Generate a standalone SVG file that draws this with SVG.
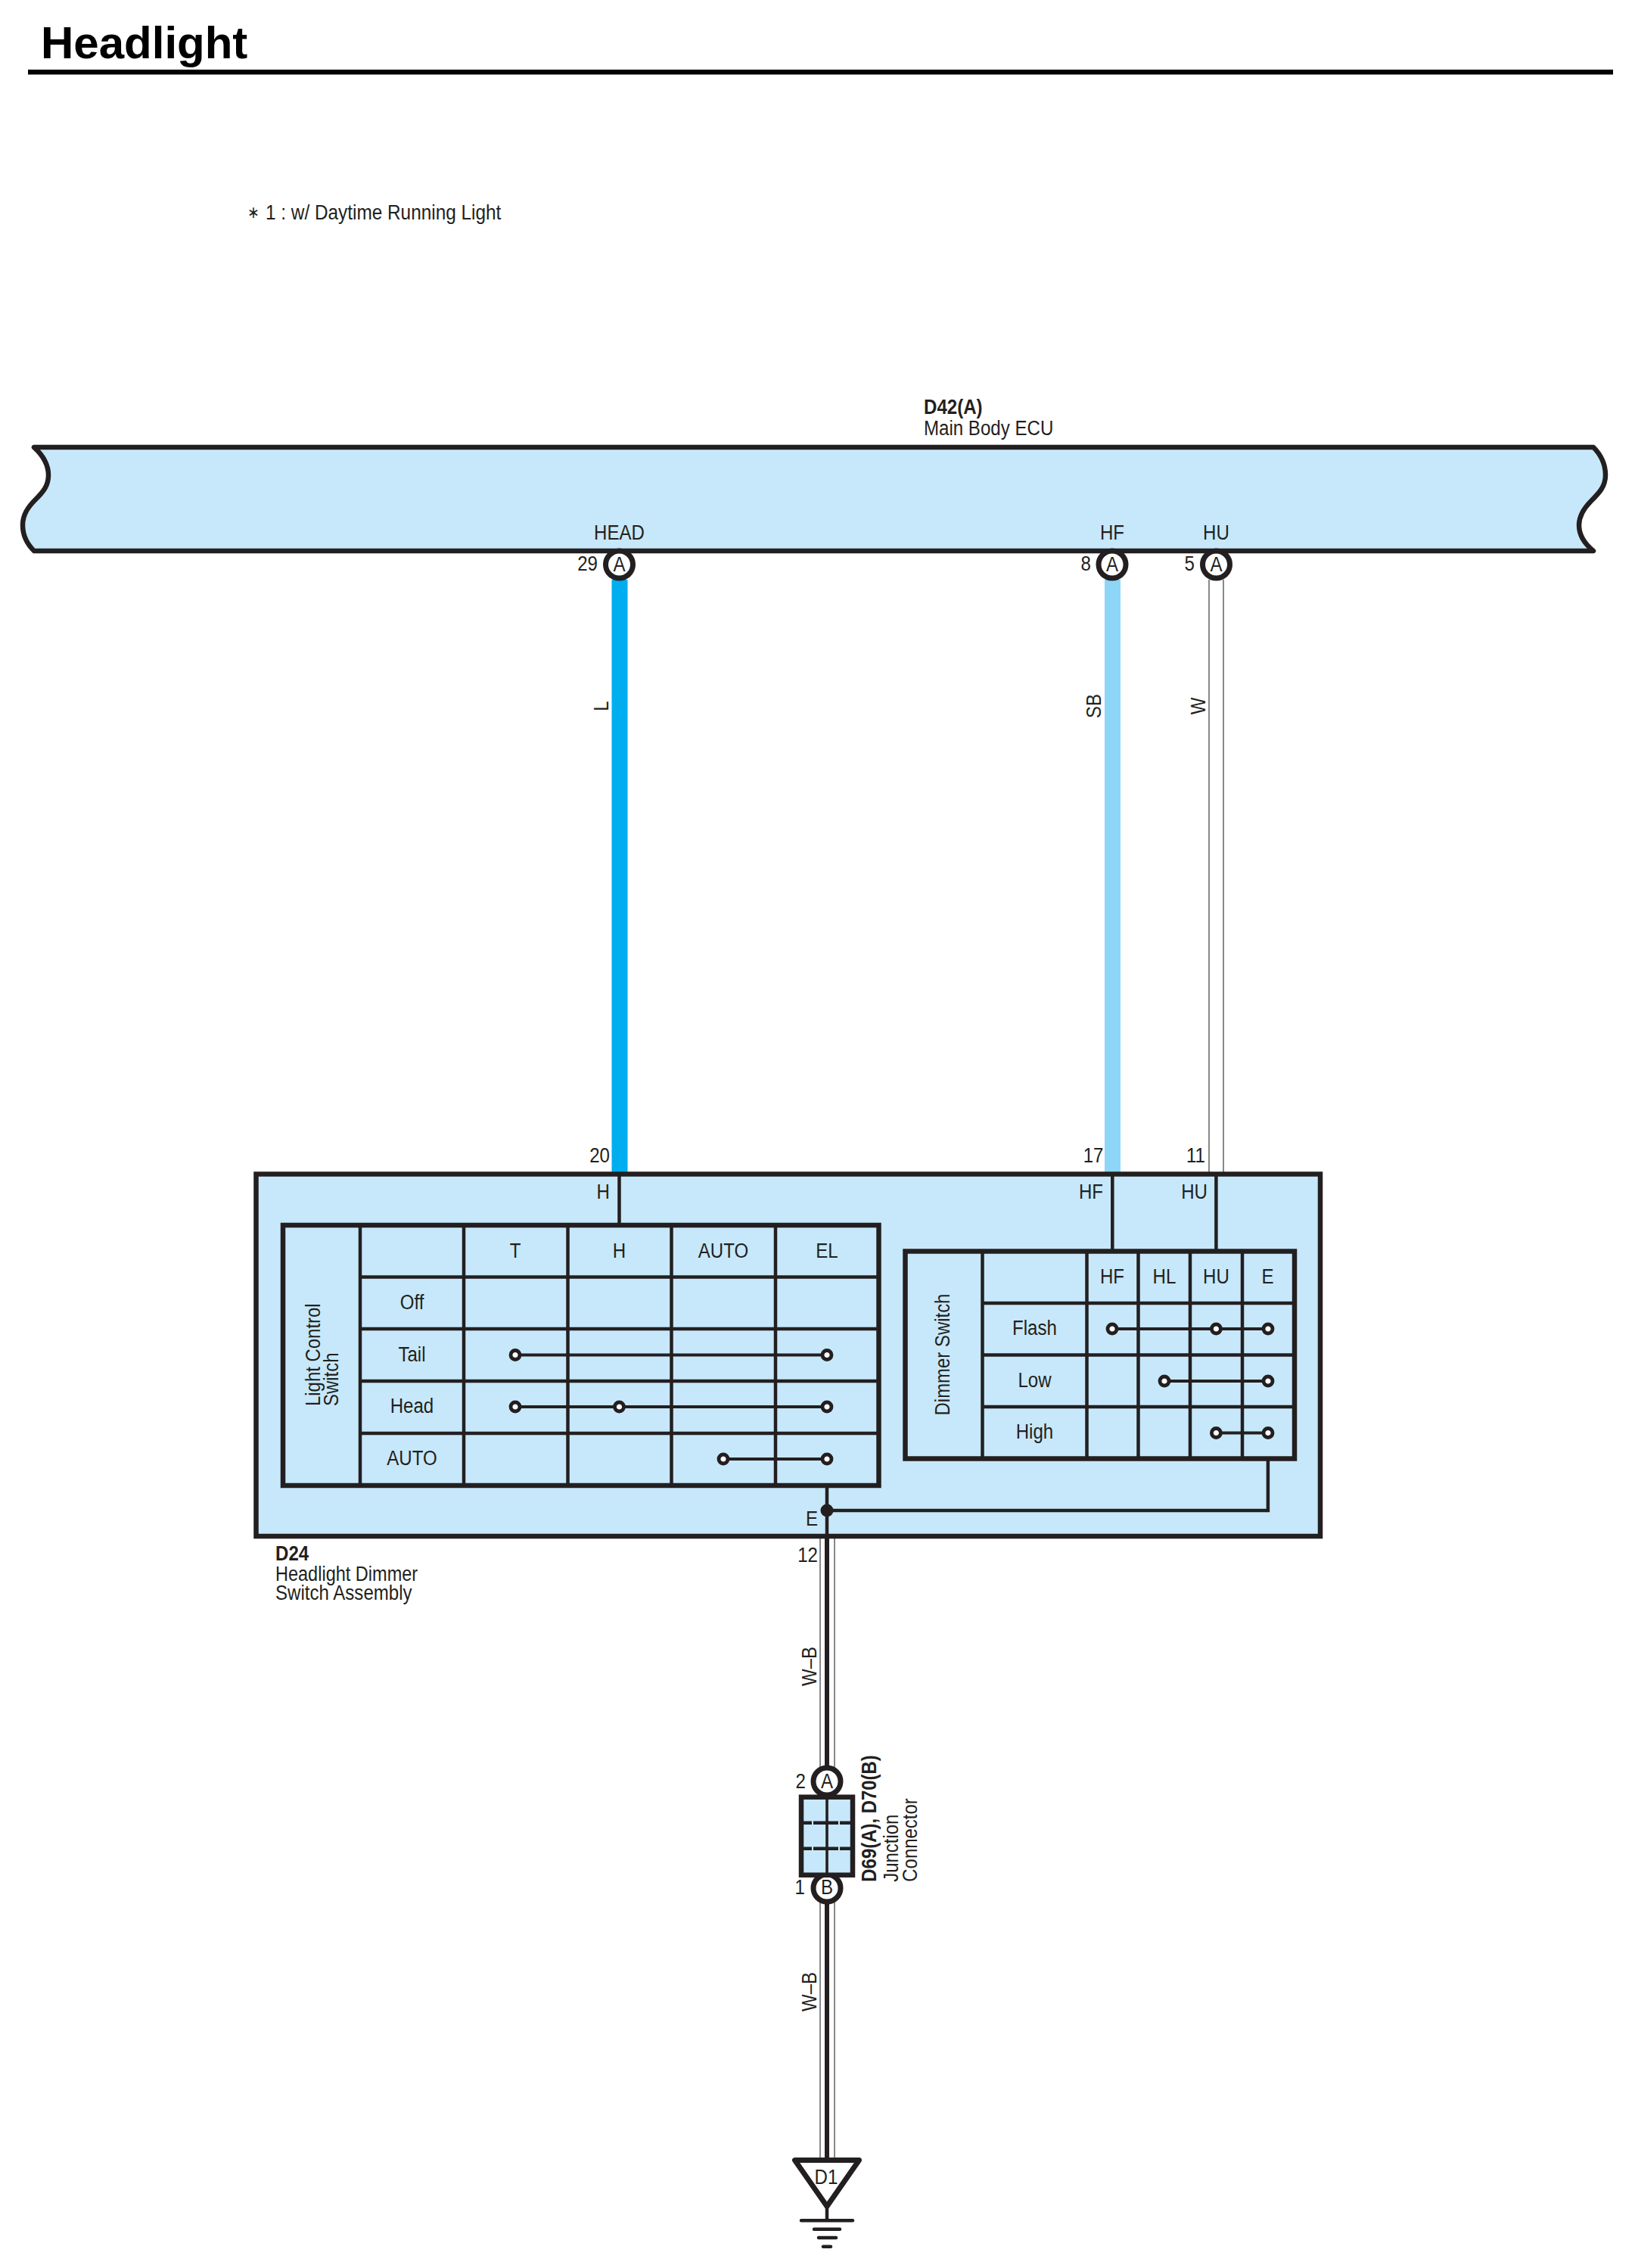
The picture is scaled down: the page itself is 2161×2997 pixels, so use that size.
<svg xmlns="http://www.w3.org/2000/svg" width="2161" height="2997" viewBox="0 0 2161 2997">
<style>
text{font-family:"Liberation Sans",Arial,sans-serif;font-size:28px;fill:#231f20;transform-box:fill-box;transform:scaleX(.86)}
.c{text-anchor:middle;transform-origin:50% 50%}
.s{text-anchor:start;transform-origin:0 50%}
.e{text-anchor:end;transform-origin:100% 50%}
.r{font-size:28.5px;transform:scaleX(.84)}
.b{font-weight:bold}
.title{font-size:60px;font-weight:bold;fill:#000;transform:none}
.box{fill:#c7e8fa;stroke:#231f20;stroke-width:6.5;stroke-linejoin:miter}
.ecu{stroke-linejoin:round}
.grid{fill:none;stroke:#231f20;stroke-width:4.5}
.link{fill:none;stroke:#231f20;stroke-width:4}
.pin{fill:#fff;stroke:#231f20;stroke-width:7}
.dot{fill:#fff;stroke:#231f20;stroke-width:4.8}
.wl{stroke:#00aeef;stroke-width:21}
.wsb{stroke:#8dd6f7;stroke-width:21}
.wthin{stroke:#888;stroke-width:2}
.wblack{stroke:#231f20;stroke-width:6}
.gnd{fill:none;stroke:#231f20;stroke-width:4.5;stroke-linecap:round}
</style>
<defs>
<circle id="d" r="6" class="dot"/>
</defs>
<rect width="2161" height="2997" fill="#fff"/>

<g id="header">
<text class="title s" x="54" y="77">Headlight</text>
<rect x="37" y="92" width="2095" height="6.5" fill="#000"/>
</g>
<g id="note">
<text class="s" x="327" y="288" style="font-size:22px">∗</text>
<text class="s" x="351" y="290" style="transform:scaleX(.87)">1 : w/ Daytime Running Light</text>
</g>

<g id="connectors">
<line class="wl" x1="819" y1="766" x2="819" y2="1549"/>
<line class="wsb" x1="1470.5" y1="766" x2="1470.5" y2="1549"/>
<line class="wthin" x1="1598" y1="766" x2="1598" y2="1549"/>
<line class="wthin" x1="1617" y1="766" x2="1617" y2="1549"/>
<line class="wthin" x1="1084" y1="2033" x2="1084" y2="2340"/>
<line class="wthin" x1="1103" y1="2033" x2="1103" y2="2340"/>
<line class="wblack" x1="1093" y1="2030" x2="1093" y2="2340"/>
<line class="wthin" x1="1084" y1="2510" x2="1084" y2="2852"/>
<line class="wthin" x1="1103" y1="2510" x2="1103" y2="2852"/>
<line class="wblack" x1="1093" y1="2510" x2="1093" y2="2852"/>
<g transform="translate(804 933) rotate(-90)"><text class="c r">L</text></g>
<g transform="translate(1455 933) rotate(-90)"><text class="c r">SB</text></g>
<g transform="translate(1593 933) rotate(-90)"><text class="c r">W</text></g>
<g transform="translate(1079 2202) rotate(-90)"><text class="c r">W–B</text></g>
<g transform="translate(1079 2632) rotate(-90)"><text class="c r">W–B</text></g>
</g>

<g id="ecu-d42">
<text class="s b" x="1221" y="547">D42(A)</text>
<text class="s" x="1221" y="575">Main Body ECU</text>
<path class="box ecu" d="M45 591H2106C2117 602 2122 614 2122 628C2122 643 2113 652 2103 662C2093 672 2087 682 2087 694C2087 708 2095 719 2106 728H45C36 719 30 708 30 694C30 680 37 670 47 660C57 650 64 642 64 628C64 612 56 601 45 591Z"/>
<text class="c" x="818.5" y="713">HEAD</text>
<text class="c" x="1470" y="713">HF</text>
<text class="c" x="1607.5" y="713">HU</text>
<circle class="pin" cx="818.5" cy="746" r="18"/>
<circle class="pin" cx="1470" cy="746" r="18"/>
<circle class="pin" cx="1607.5" cy="746" r="18"/>
<text class="c" x="818.5" y="755">A</text>
<text class="c" x="1470" y="755">A</text>
<text class="c" x="1607.5" y="755">A</text>
<text class="e" x="790" y="754">29</text>
<text class="e" x="1442" y="754">8</text>
<text class="e" x="1579" y="754">5</text>
</g>

<g id="switch-d24">
<rect class="box" x="338.500" y="1551.500" width="1406.500" height="478.500"/>
<text class="e" x="806" y="1536">20</text>
<text class="e" x="1458.500" y="1536">17</text>
<text class="e" x="1593" y="1536">11</text>
<text class="e" x="806" y="1584">H</text>
<text class="e" x="1458" y="1584">HF</text>
<text class="e" x="1596" y="1584">HU</text>
<path class="grid" d="M818.500 1551V1619M1470.300 1551V1653M1607.400 1551V1653M1093 1963V2030M1675.900 1927V1996H1093"/>
<circle cx="1093" cy="1996" r="8.500" fill="#231f20"/>
<text class="e" x="1081" y="2016">E</text>
<text class="e" x="1081" y="2064">12</text>
<text class="s b" x="364" y="2062">D24</text>
<text class="s" x="364" y="2089" style="transform:scaleX(.84)">Headlight Dimmer</text>
<text class="s" x="364" y="2114">Switch Assembly</text>

<g id="light-control-switch">
<rect class="box" x="374" y="1619" width="787.500" height="344"/>
<path class="grid" d="M476 1619V1963M613 1619V1963M750.500 1619V1963M887.500 1619V1963M1025 1619V1963M476 1687.500H1161M476 1756H1161M476 1825H1161M476 1894H1161"/>
<path class="link" d="M681 1790.500H1093M681 1859H1093M956 1928H1093"/>
<use href="#d" x="681" y="1790.500"/><use href="#d" x="1093" y="1790.500"/>
<use href="#d" x="681" y="1859"/><use href="#d" x="818.500" y="1859"/><use href="#d" x="1093" y="1859"/>
<use href="#d" x="956" y="1928"/><use href="#d" x="1093" y="1928"/>
<g transform="translate(423 1858) rotate(-90)"><text class="s r">Light Control</text></g>
<g transform="translate(447 1858) rotate(-90)"><text class="s r">Switch</text></g>
<text class="c" x="681" y="1662">T</text>
<text class="c" x="818.500" y="1662">H</text>
<text class="c" x="956" y="1662">AUTO</text>
<text class="c" x="1093" y="1662">EL</text>
<text class="c" x="544.500" y="1730">Off</text>
<text class="c" x="544.500" y="1799">Tail</text>
<text class="c" x="544.500" y="1867">Head</text>
<text class="c" x="544.500" y="1936">AUTO</text>
</g>

<g id="dimmer-switch">
<rect class="box" x="1196.500" y="1653.500" width="514.500" height="274"/>
<path class="grid" d="M1298.500 1653V1927M1436.500 1653V1927M1504.500 1653V1927M1573 1653V1927M1642 1653V1927M1298.500 1722H1711M1298.500 1790.500H1711M1298.500 1859H1711"/>
<path class="link" d="M1470 1756H1676M1539 1825H1676M1607.400 1893.500H1676"/>
<use href="#d" x="1470" y="1756"/><use href="#d" x="1607.400" y="1756"/><use href="#d" x="1676" y="1756"/>
<use href="#d" x="1539" y="1825"/><use href="#d" x="1676" y="1825"/>
<use href="#d" x="1607.400" y="1893.500"/><use href="#d" x="1676" y="1893.500"/>
<g transform="translate(1255 1790) rotate(-90)"><text class="c r">Dimmer Switch</text></g>
<text class="c" x="1470" y="1696">HF</text>
<text class="c" x="1539" y="1696">HL</text>
<text class="c" x="1607.400" y="1696">HU</text>
<text class="c" x="1675.500" y="1696">E</text>
<text class="c" x="1367.500" y="1764.500">Flash</text>
<text class="c" x="1367.500" y="1833">Low</text>
<text class="c" x="1367.500" y="1901">High</text>
</g>
</g>

<g id="junction-d69-d70">
<circle class="pin" cx="1093" cy="2354" r="18"/>
<circle class="pin" cx="1093" cy="2495" r="18"/>
<rect class="box" x="1059" y="2374.700" width="68" height="103"/>
<path class="grid" d="M1093 2375V2478" style="stroke-width:3.600"/>
<path class="grid" d="M1062 2408.700H1124M1062 2442.700H1124" style="stroke-dasharray:11 2 33 2 20"/>
<text class="c" x="1093" y="2363">A</text>
<text class="c" x="1093" y="2503">B</text>
<text class="e" x="1065" y="2363">2</text>
<text class="e" x="1064" y="2503">1</text>
<g transform="translate(1158 2486.700) rotate(-90)"><text class="s r b">D69(A), D70(B)</text></g>
<g transform="translate(1186.700 2486.700) rotate(-90)"><text class="s r">Junction</text></g>
<g transform="translate(1211.700 2486.700) rotate(-90)"><text class="s r">Connector</text></g>
</g>

<g id="ground-d1">
<path d="M1050.500 2854.500H1135.500L1093 2915.500Z" fill="#fff" stroke="#231f20" stroke-width="7" stroke-linejoin="round"/>
<line x1="1093" y1="2854" x2="1093" y2="2850" stroke="#231f20" stroke-width="6"/>
<path class="gnd" d="M1093 2915V2934M1059 2934.300H1127M1076 2945.700H1110M1082 2957H1105M1088 2968.700H1098"/>
<text class="c" x="1092" y="2886">D1</text>
</g>
</svg>
